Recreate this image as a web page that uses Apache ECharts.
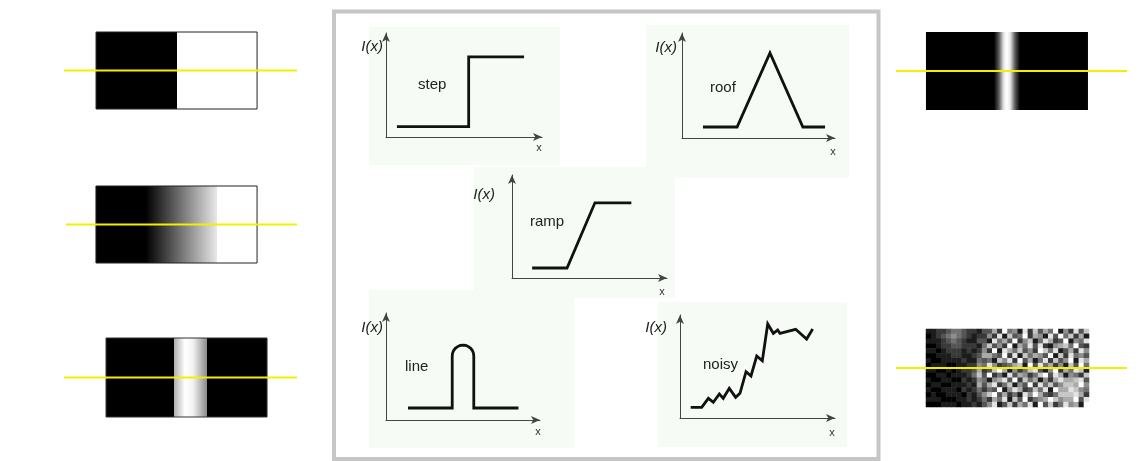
<!DOCTYPE html>
<html><head><meta charset="utf-8">
<script src="https://cdn.jsdelivr.net/npm/echarts@6/dist/echarts.min.js"></script>
<style>html,body{margin:0;padding:0;background:#fff}#main{width:1140px;height:461px}</style>
</head><body><div id="main"></div>
<script>
// ---- profile plots (x, I(x)) in 0..10 axis units ----
const stepX = [0.7, 5.3, 5.3, 8.85];
const stepY = [1.0, 1.0, 7.7, 7.7];
const roofX = [1.37, 3.6, 5.75, 7.9, 9.35];
const roofY = [1.05, 1.05, 8.1, 1.05, 1.05];
const rampX = [1.3, 3.55, 5.35, 7.7];
const rampY = [0.97, 0.97, 7.3, 7.3];
const lineX = [1.43, 4.3, 4.3, 4.32, 4.39, 4.5, 4.65, 4.82, 5.0, 5.18, 5.35, 5.5, 5.61, 5.68, 5.7, 5.7, 8.6];
const lineY = [1.12, 1.12, 5.97, 6.24, 6.49, 6.70, 6.86, 6.97, 7.0, 6.97, 6.86, 6.70, 6.49, 6.24, 5.97, 1.12, 1.12];
const noisyX = [0.69, 1.40, 1.83, 2.15, 2.54, 2.79, 3.18, 3.59, 3.87, 4.26, 4.58, 4.95, 5.31, 5.66, 6.02, 6.30, 6.45, 7.46, 8.17, 8.56];
const noisyY = [1.04, 1.04, 1.91, 1.52, 2.33, 1.91, 2.88, 2.01, 2.40, 4.50, 4.08, 6.02, 5.56, 9.13, 8.22, 8.54, 8.22, 8.61, 7.67, 8.64];
const plotNames = ['step', 'roof', 'ramp', 'line', 'noisy'];
const yAxisTitle = 'I(x)';
const xAxisTitle = 'x';

// ---- edge images: intensity profiles across the image (position 0..10, intensity 0..1) ----
const stepProfile = [[0, 0], [5.0, 0], [5.0, 1], [10, 1]];
const rampProfile = [[0, 0], [3.1, 0], [7.5, 0.91], [7.5, 1], [10, 1]];
const lineProfile = [[0, 0], [4.22, 0], [4.22, 0.68], [4.9, 1], [5.4, 0.95], [6.25, 0.55], [6.25, 0], [10, 0]];
const roofProfile = [[0, 0], [4.2, 0], [4.5, 0.35], [4.8, 0.9], [5.0, 1], [5.2, 0.9], [5.5, 0.35], [5.8, 0], [10, 0]];
// yellow scan lines: [start, end] in image units (image spans 0..10), at height 5
const scanStep = [-1.99, 12.48];
const scanRamp = [-1.86, 12.48];
const scanLine = [-2.61, 11.86];
const scanRoof = [-1.85, 12.41];
const scanNoisy = [-1.84, 12.33];
const scanLevel = 5;
// noisy image, intensity 0..9 per cell, top row first
const noisyRows = [
  "11223443221336294518273649152837",
  "01234543212252817349265183947261",
  "11123432113318463925714862391548",
  "00122332221473529164838215674932",
  "11012221212529186473529748136285",
  "00111221123664392817465391728453",
  "10011112114341758293614827359186",
  "01110011225485234671938462517394",
  "11001012236237961524783159264871",
  "00110111247392418365247938615427",
  "10011002125415683927461526866783",
  "01100111216368247153928473577695",
  "10011102124243915862374819668754",
  "01001110213579362418596324777862",
  "11100011212426481739245697566938",
  "00011101121358137264819372485619"
];

const chart = echarts.init(document.getElementById('main'));

const plotGrids = [
  {left: 386, top: 33, width: 156, height: 104},
  {left: 682, top: 33, width: 153, height: 105},
  {left: 512, top: 175, width: 155, height: 103},
  {left: 386, top: 313, width: 154, height: 107},
  {left: 680, top: 315, width: 155, height: 103}
];
const imgGrids = [
  {left: 64, top: 32, width: 233, height: 77},
  {left: 66, top: 186, width: 231, height: 77},
  {left: 64, top: 338, width: 233, height: 79},
  {left: 896, top: 32, width: 231, height: 78},
  {left: 896, top: 329, width: 231, height: 78},
  {left: 926, top: 329, width: 163, height: 78}
];
const grids = plotGrids.concat(imgGrids);

const xAxes = [], yAxes = [], series = [];
const axisLineStyle = {show: true, lineStyle: {color: '#444', width: 1}, symbol: ['none', 'arrow'], symbolSize: [6, 9]};
plotGrids.forEach((g, i) => {
  xAxes.push({type: 'value', gridIndex: i, min: 0, max: 10, axisLine: axisLineStyle, axisTick: {show: false}, axisLabel: {show: false}, splitLine: {show: false}});
  yAxes.push({type: 'value', gridIndex: i, min: 0, max: 10, axisLine: axisLineStyle, axisTick: {show: false}, axisLabel: {show: false}, splitLine: {show: false}});
});
const plotData = [[stepX, stepY], [roofX, roofY], [rampX, rampY], [lineX, lineY], [noisyX, noisyY]];
plotData.forEach((d, i) => {
  series.push({type: 'line', xAxisIndex: i, yAxisIndex: i, data: d[0].map((x, k) => [x, d[1][k]]),
    showSymbol: false, symbol: 'none', silent: true, animation: false,
    lineStyle: {color: '#111', width: 2.8, join: 'miter'}});
});

function gray(v) { const c = Math.round(v * 255); return 'rgb(' + c + ',' + c + ',' + c + ')'; }
const scans = [scanStep, scanRamp, scanLine, scanRoof, scanNoisy];
const profiles = [stepProfile, rampProfile, lineProfile, roofProfile];
const borders = ['#222', '#222', '#333', null];
scans.forEach((s, j) => {
  const gi = 5 + j;
  xAxes.push({type: 'value', gridIndex: gi, min: s[0], max: s[1], show: false});
  yAxes.push({type: 'value', gridIndex: gi, min: 0, max: 10, show: false});
  if (j < 4) {
    const prof = profiles[j];
    const border = borders[j];
    series.push({type: 'custom', xAxisIndex: gi, yAxisIndex: gi, silent: true, animation: false, z: 2,
      data: [[0, 0, 10, 10]],
      renderItem: function (params, api) {
        const a = api.coord([api.value(0), api.value(3)]);
        const b = api.coord([api.value(2), api.value(1)]);
        const stops = prof.map(p => ({offset: p[0] / 10, color: gray(p[1])}));
        return {type: 'rect', shape: {x: a[0], y: a[1], width: b[0] - a[0], height: b[1] - a[1]},
          style: {fill: new echarts.graphic.LinearGradient(0, 0, 1, 0, stops), stroke: border || 'none', lineWidth: border ? 1 : 0}};
      }});
  }
});
// heatmap for noisy image
const noisyCols = noisyRows[0].length;
xAxes.push({type: 'category', gridIndex: 10, data: Array.from({length: noisyCols}, (_, i) => i), show: false});
yAxes.push({type: 'category', gridIndex: 10, data: noisyRows.map((_, i) => i), inverse: true, show: false});
const noisyData = [];
noisyRows.forEach((r, ri) => r.split('').forEach((ch, ci) => noisyData.push([ci, ri, +ch])));
const heatIndex = series.length;
series.push({type: 'heatmap', xAxisIndex: 10, yAxisIndex: 10, data: noisyData, silent: true, animation: false, z: 2,
  itemStyle: {borderWidth: 0}, emphasis: {disabled: true}});
// yellow scan lines (on top)
scans.forEach((s, j) => {
  const gi = 5 + j;
  series.push({type: 'line', xAxisIndex: gi, yAxisIndex: gi, data: [[s[0], scanLevel], [s[1], scanLevel]],
    showSymbol: false, symbol: 'none', silent: true, animation: false, z: 5,
    lineStyle: {color: '#f2f000', width: 2}});
});

// panels, frame and texts
const panelColor = '#f7fbf5';
const panels = [[369, 27, 191, 138], [646, 25, 203, 153], [474, 167, 201, 131], [369, 290, 205, 158], [658, 302, 189, 145]];
const graphics = [];
panels.forEach(p => graphics.push({type: 'rect', z: -10, shape: {x: p[0], y: p[1], width: p[2], height: p[3]}, style: {fill: panelColor}}));
graphics.push({type: 'rect', z: 10, shape: {x: 334, y: 11.5, width: 544.5, height: 447.5}, style: {fill: 'none', stroke: '#c6c6c6', lineWidth: 4}});
const ixPos = [[383, 47], [677, 48], [495, 195], [383, 328], [667, 328]];
const namePos = [[418, 85], [710, 88], [530, 222], [405, 367], [703, 365]];
const xPos = [[539, 148], [833, 152], [662, 292], [538, 432], [832, 433]];
const font = '"Liberation Sans", Arial, sans-serif';
for (let i = 0; i < 5; i++) {
  graphics.push({type: 'text', z: 10, x: ixPos[i][0], y: ixPos[i][1], style: {text: yAxisTitle, font: 'italic 15px ' + font, fill: '#222', align: 'right', verticalAlign: 'middle'}});
  graphics.push({type: 'text', z: 10, x: namePos[i][0], y: namePos[i][1], style: {text: plotNames[i], font: '15px ' + font, fill: '#222', align: 'left', verticalAlign: 'middle'}});
  graphics.push({type: 'text', z: 10, x: xPos[i][0], y: xPos[i][1], style: {text: xAxisTitle, font: '11px ' + font, fill: '#333', align: 'center', verticalAlign: 'middle'}});
}

chart.setOption({
  animation: false,
  backgroundColor: '#ffffff',
  grid: grids,
  xAxis: xAxes,
  yAxis: yAxes,
  visualMap: {show: false, type: 'continuous', min: 0, max: 9, seriesIndex: heatIndex, inRange: {color: ['#000000', '#ffffff']}},
  graphic: graphics,
  series: series
});
</script>
</body></html>
